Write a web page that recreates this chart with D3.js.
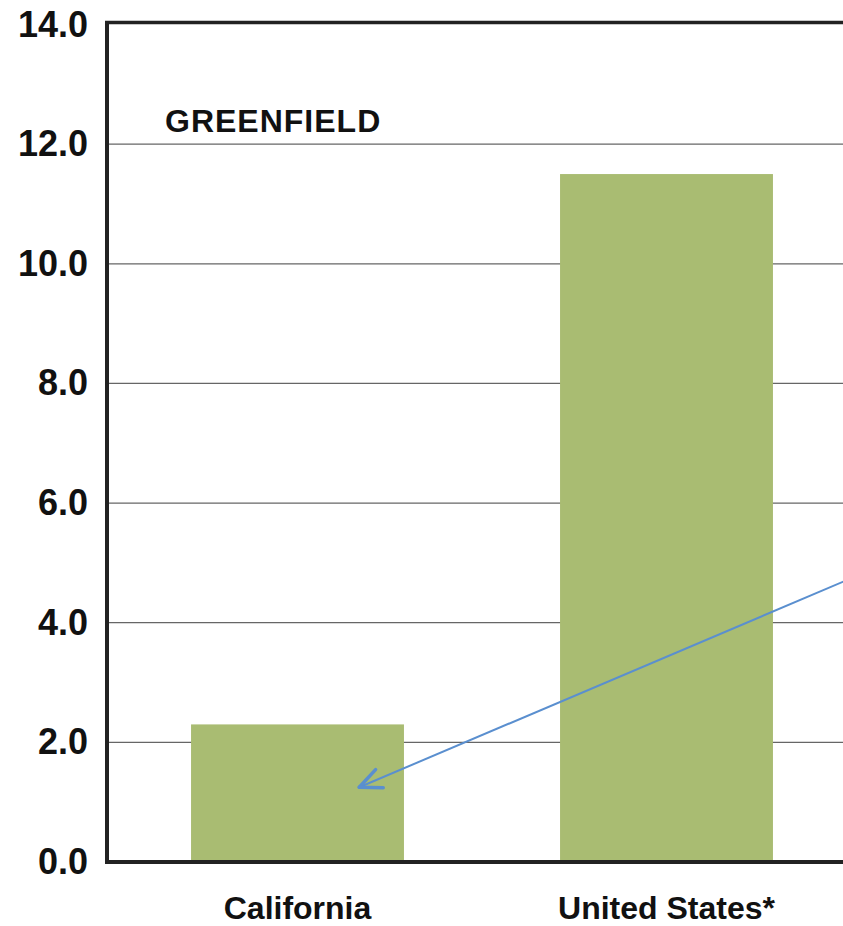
<!DOCTYPE html>
<html>
<head>
<meta charset="utf-8">
<script src="https://cdn.jsdelivr.net/npm/d3@7"></script>
<style>
  body { margin: 0; background: #fff; }
  svg { display: block; }
  text { font-family: "Liberation Sans", Arial, sans-serif; font-weight: bold; fill: #111; }
</style>
</head>
<body>
<svg id="canvas"></svg>
<script>
// data
let categories = ["California", "United States*"];
let values = [2.3, 11.5];
let yTicks = [0, 2, 4, 6, 8, 10, 12, 14];
let title = "GREENFIELD";
// arrow annotation, in data terms: from the right edge at 4.7 down into the California bar
let arrowFrom = { value: 4.72 };
let arrowTo = { category: "California", frac: 0.79, value: 1.25 };

let width = 843;
let height = 926;
let padLeft = 107;
let padBottom = 862;
let padTop = 24.5;

let canvas = d3.select("#canvas").attr("width", width).attr("height", height);

let xScale = d3.scaleBand()
  .domain(categories)
  .range([113, 851])
  .paddingInner(0.423)
  .paddingOuter(0.2115);

let yScale = d3.scaleLinear()
  .domain([0, 14])
  .range([padBottom, padTop]);

// gridlines
canvas.append("g")
  .selectAll("line")
  .data(yTicks.filter(d => d > 0 && d < 14))
  .enter()
  .append("line")
  .attr("x1", padLeft)
  .attr("x2", width)
  .attr("y1", d => yScale(d))
  .attr("y2", d => yScale(d))
  .attr("stroke", "#666")
  .attr("stroke-width", 1.2);

// bars
canvas.append("g")
  .selectAll("rect")
  .data(values)
  .enter()
  .append("rect")
  .attr("x", (d, i) => xScale(categories[i]))
  .attr("width", xScale.bandwidth())
  .attr("y", d => yScale(d))
  .attr("height", d => yScale(0) - yScale(d))
  .attr("fill", "#a9bc72");

// frame: left axis, top border, baseline
canvas.append("line")
  .attr("x1", padLeft).attr("x2", padLeft)
  .attr("y1", yScale(14) - 2).attr("y2", yScale(0) + 2)
  .attr("stroke", "#222").attr("stroke-width", 4);
canvas.append("line")
  .attr("x1", padLeft - 2).attr("x2", width)
  .attr("y1", yScale(14) - 2).attr("y2", yScale(14) - 2)
  .attr("stroke", "#222").attr("stroke-width", 3.5);
canvas.append("line")
  .attr("x1", padLeft - 2).attr("x2", width)
  .attr("y1", yScale(0)).attr("y2", yScale(0))
  .attr("stroke", "#222").attr("stroke-width", 4);

// axes (labels only)
let yAxis = d3.axisLeft(yScale)
  .tickValues(yTicks)
  .tickFormat(d3.format(".1f"))
  .tickSize(0)
  .tickPadding(19);
let yg = canvas.append("g")
  .attr("transform", "translate(" + padLeft + ",0)")
  .call(yAxis);
yg.select(".domain").remove();
yg.selectAll("text")
  .attr("font-size", 36)
  .attr("font-family", null)
  .attr("fill", "#111");

let xAxis = d3.axisBottom(xScale).tickSize(0).tickPadding(34);
let xg = canvas.append("g")
  .attr("transform", "translate(0," + padBottom + ")")
  .call(xAxis);
xg.select(".domain").remove();
xg.selectAll("text")
  .attr("font-size", 32)
  .attr("font-family", null)
  .attr("fill", "#111");

// title
canvas.append("text")
  .attr("x", 165)
  .attr("y", 131.5)
  .attr("font-size", 32)
  .attr("letter-spacing", 1)
  .text(title);

// arrow
let tipX = xScale(arrowTo.category) + xScale.bandwidth() * arrowTo.frac;
let tipY = yScale(arrowTo.value);
let startY = yScale(arrowFrom.value);
let startX = width + 5;
let ang = Math.atan2(startY - tipY, startX - tipX);
let arrowColor = "#5a8fcf";
canvas.append("line")
  .attr("x1", startX).attr("y1", startY)
  .attr("x2", tipX).attr("y2", tipY)
  .attr("stroke", arrowColor).attr("stroke-width", 2);
[-0.42, 0.42].forEach(off => {
  canvas.append("line")
    .attr("x1", tipX).attr("y1", tipY)
    .attr("x2", tipX + 24 * Math.cos(ang + off))
    .attr("y2", tipY + 24 * Math.sin(ang + off))
    .attr("stroke", arrowColor)
    .attr("stroke-width", 3.5)
    .attr("stroke-linecap", "round");
});
</script>
</body>
</html>
